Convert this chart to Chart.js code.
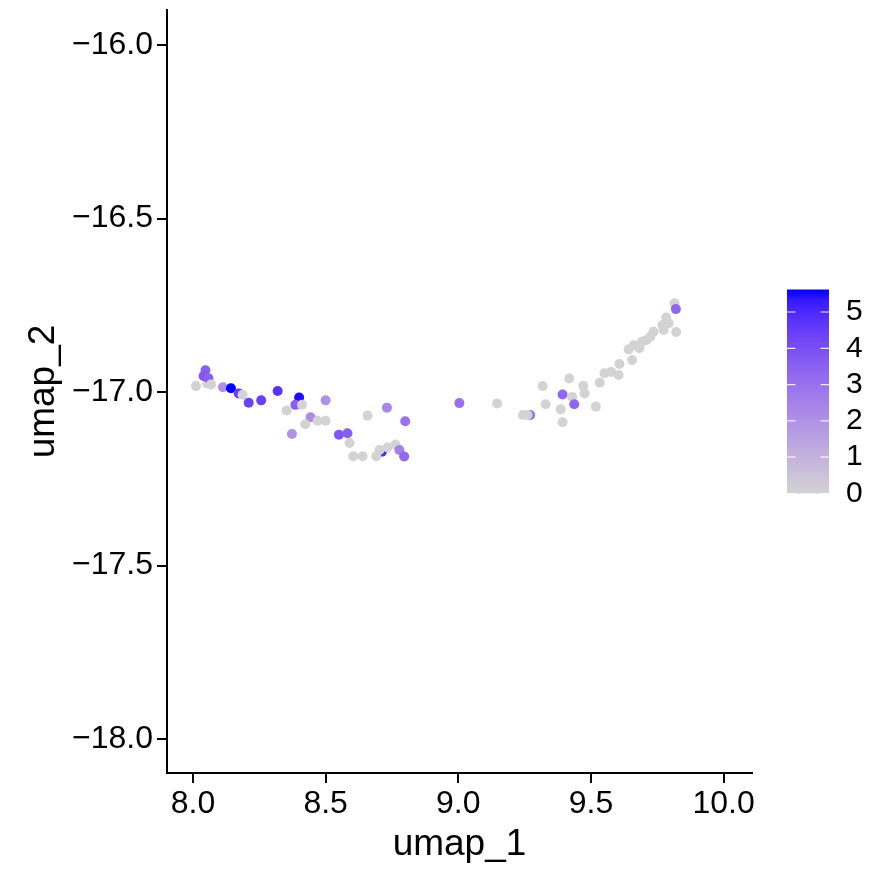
<!DOCTYPE html>
<html>
<head>
<meta charset="utf-8">
<script src="https://cdn.jsdelivr.net/npm/chart.js@4/dist/chart.umd.min.js"></script>
<style>
  html, body { margin: 0; padding: 0; background: #fff; }
  canvas { display: block; }
</style>
</head>
<body>
<canvas id="chart" width="887" height="869"></canvas>
<script>
// Embedding coordinates and expression per cell
const umap1 = [8.011, 8.053, 8.047, 8.040, 8.058, 8.068, 8.113, 8.143, 8.172, 8.187,
               8.210, 8.257, 8.319, 8.400, 8.386, 8.411, 8.500, 8.353, 8.443, 8.423,
               8.470, 8.500, 8.373, 8.550, 8.582, 8.590, 8.658, 8.731, 8.800, 8.604,
               8.639, 8.712, 8.691, 8.703, 8.733, 8.763, 8.778, 8.796, 9.004, 9.146,
               9.271, 9.244, 9.261, 9.318, 9.329, 9.386, 9.393, 9.393, 9.429, 9.437,
               9.418, 9.471, 9.476, 9.518, 9.533, 9.551, 9.576, 9.604, 9.607, 9.655,
               9.642, 9.661, 9.683, 9.692, 9.709, 9.724, 9.736, 9.774, 9.770, 9.793,
               9.784, 9.821, 9.815, 9.820];
const umap2 = [-16.983, -16.975, -16.937, -16.954, -16.960, -16.978, -16.986, -16.989, -17.004, -17.008,
               -17.031, -17.024, -16.997, -17.016, -17.037, -17.037, -17.024, -17.053, -17.073, -17.093,
               -17.083, -17.083, -17.121, -17.123, -17.119, -17.147, -17.068, -17.045, -17.084, -17.185,
               -17.185, -17.172, -17.185, -17.167, -17.160, -17.151, -17.167, -17.186, -17.032, -17.033,
               -17.066, -17.066, -17.066, -16.983, -17.035, -17.050, -17.087, -17.007, -17.014, -17.035,
               -16.961, -16.982, -17.004, -17.042, -16.973, -16.946, -16.942, -16.951, -16.919, -16.908,
               -16.877, -16.865, -16.874, -16.855, -16.850, -16.841, -16.826, -16.821, -16.807, -16.802,
               -16.785, -16.827, -16.744, -16.761];
const expr  = [0, 0, 3.5, 3.8, 3.5, 0, 2.0, 5.62, 4.5, 0,
               4.4, 4.4, 4.8, 5.5, 3.6, 0, 2.0, 0, 2.2, 0,
               0, 0, 2.0, 3.8, 3.6, 0, 0, 2.3, 3.0, 0,
               0, 5.0, 0, 0, 0, 0, 2.5, 3.3, 3.0, 0,
               3.0, 0, 0, 0, 0, 0, 0, 3.3, 0, 3.3,
               0, 0, 0, 0, 0, 0, 0, 0, 0, 0,
               0, 0, 0, 0, 0, 0, 0, 0, 0, 0,
               0, 0, 0, 3.3];

const xTicks = [8.0, 8.5, 9.0, 9.5, 10.0];
const yTicks = [-18.0, -17.5, -17.0, -16.5, -16.0];
const legendTicks = [0, 1, 2, 3, 4, 5];
const exprMax = 5.62;

const FONT = '"Liberation Sans", Arial, Helvetica, sans-serif';

// ggplot style gradient: interpolate lightgrey -> blue in Lab space
function toLin(c) { c /= 255; return c <= 0.04045 ? c / 12.92 : Math.pow((c + 0.055) / 1.055, 2.4); }
function fromLin(c) {
    c = c <= 0.0031308 ? 12.92 * c : 1.055 * Math.pow(c, 1 / 2.4) - 0.055;
    return Math.round(Math.max(0, Math.min(1, c)) * 255);
}
function rgbToLab(r, g, b) {
    r = toLin(r); g = toLin(g); b = toLin(b);
    let x = (0.4124 * r + 0.3576 * g + 0.1805 * b) / 0.95047;
    let y = (0.2126 * r + 0.7152 * g + 0.0722 * b);
    let z = (0.0193 * r + 0.1192 * g + 0.9505 * b) / 1.08883;
    const f = t => t > 0.008856 ? Math.cbrt(t) : 7.787 * t + 16 / 116;
    x = f(x); y = f(y); z = f(z);
    return [116 * y - 16, 500 * (x - y), 200 * (y - z)];
}
function labToRgb(L, a, bb) {
    const fy = (L + 16) / 116, fx = fy + a / 500, fz = fy - bb / 200;
    const inv = t => t > 0.206893 ? t * t * t : (t - 16 / 116) / 7.787;
    const x = inv(fx) * 0.95047, y = inv(fy), z = inv(fz) * 1.08883;
    const r = 3.2406 * x - 1.5372 * y - 0.4986 * z;
    const g = -0.9689 * x + 1.8758 * y + 0.0415 * z;
    const b = 0.0557 * x - 0.2040 * y + 1.0570 * z;
    return 'rgb(' + fromLin(r) + ',' + fromLin(g) + ',' + fromLin(b) + ')';
}
const labLow = rgbToLab(211, 211, 211);
const labHigh = rgbToLab(0, 0, 255);
function colorFor(v) {
    const t = Math.max(0, Math.min(1, v / exprMax));
    return labToRgb(labLow[0] + (labHigh[0] - labLow[0]) * t,
                    labLow[1] + (labHigh[1] - labLow[1]) * t,
                    labLow[2] + (labHigh[2] - labLow[2]) * t);
}

const fmt = v => Number(v).toFixed(1).replace('-', '\u2212');

// Colour bar legend to the right of the panel
const colorbarPlugin = {
    id: 'colorbar',
    afterDraw(chart) {
        const ctx = chart.ctx;
        const area = chart.chartArea;
        const w = 42, h = 204;
        const x0 = area.right + 35;
        const y0 = (area.top + area.bottom) / 2 - h / 2;
        const yOf = v => y0 + h - (v / exprMax) * h;

        ctx.save();
        const grad = ctx.createLinearGradient(0, y0 + h, 0, y0);
        for (let i = 0; i <= 20; i++) {
            grad.addColorStop(i / 20, colorFor((i / 20) * exprMax));
        }
        ctx.fillStyle = grad;
        ctx.fillRect(x0, y0, w, h);

        ctx.strokeStyle = 'rgba(255,255,255,0.85)';
        ctx.lineWidth = 1.2;
        ctx.fillStyle = '#000';
        ctx.font = '30px ' + FONT;
        ctx.textAlign = 'left';
        ctx.textBaseline = 'middle';
        legendTicks.forEach(v => {
            const y = yOf(v);
            ctx.beginPath();
            ctx.moveTo(x0, y); ctx.lineTo(x0 + 8.4, y);
            ctx.moveTo(x0 + w - 8.4, y); ctx.lineTo(x0 + w, y);
            ctx.stroke();
            ctx.fillText(String(v), x0 + w + 17, y);
        });
        ctx.restore();
    }
};

const points = umap1.map((x, i) => ({ x: x, y: umap2[i] }));

new Chart(document.getElementById('chart'), {
    type: 'scatter',
    data: {
        datasets: [{
            data: points,
            pointBackgroundColor: expr.map(colorFor),
            pointBorderWidth: 0,
            pointRadius: 5,
            pointHoverRadius: 5
        }]
    },
    options: {
        responsive: false,
        animation: false,
        devicePixelRatio: 1,
        events: [],
        layout: { padding: { top: 10, right: 135, bottom: 0, left: 0 } },
        plugins: {
            legend: { display: false },
            tooltip: { enabled: false }
        },
        scales: {
            x: {
                type: 'linear',
                min: 7.902,
                max: 10.107,
                afterBuildTicks: s => { s.ticks = xTicks.map(v => ({ value: v })); },
                afterFit: s => { s.height = 96; s.paddingLeft = 0; s.paddingRight = 0; },
                grid: { drawOnChartArea: false, drawTicks: true, tickLength: 10, color: '#000', lineWidth: 2 },
                border: { color: '#000', width: 2 },
                ticks: {
                    color: '#000',
                    font: { size: 32, family: FONT },
                    padding: 2,
                    maxRotation: 0,
                    autoSkip: false,
                    callback: v => fmt(v)
                },
                title: {
                    display: true,
                    text: 'umap_1',
                    color: '#000',
                    font: { size: 37, family: FONT },
                    padding: { top: 0, bottom: 2 }
                }
            },
            y: {
                type: 'linear',
                min: -18.098,
                max: -15.899,
                afterBuildTicks: s => { s.ticks = yTicks.map(v => ({ value: v })); },
                afterFit: s => { s.width = 167; s.paddingTop = 0; s.paddingBottom = 0; },
                grid: { drawOnChartArea: false, drawTicks: true, tickLength: 10, color: '#000', lineWidth: 2 },
                border: { color: '#000', width: 2 },
                ticks: {
                    color: '#000',
                    font: { size: 32, family: FONT },
                    padding: 4,
                    autoSkip: false,
                    callback: v => fmt(v)
                },
                title: {
                    display: true,
                    text: 'umap_2',
                    color: '#000',
                    font: { size: 37, family: FONT },
                    padding: { top: 22, bottom: 0 }
                }
            }
        }
    },
    plugins: [colorbarPlugin]
});
</script>
</body>
</html>
